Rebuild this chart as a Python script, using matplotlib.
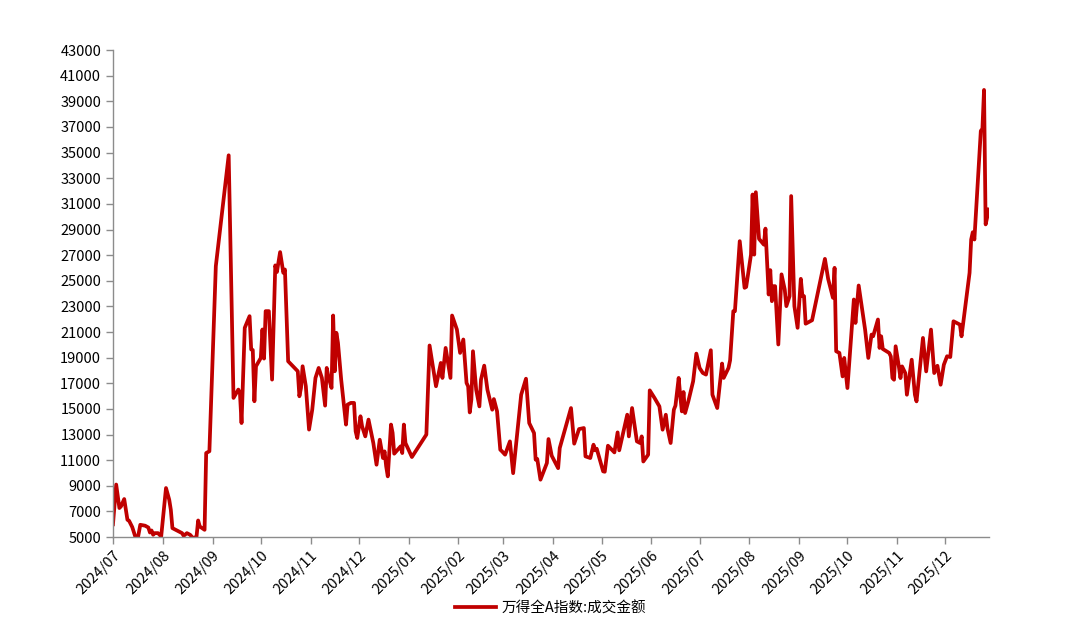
import matplotlib
matplotlib.use("Agg")
import matplotlib.pyplot as plt
import matplotlib.dates as mdates
import pandas as pd

plt.rcParams["font.family"] = ["Noto Sans CJK SC", "DejaVu Sans"]

# 万得全A指数 成交金额
dates = [
    "2024-07-01", "2024-07-03", "2024-07-05", "2024-07-06", "2024-07-08", "2024-07-10", "2024-07-11",
    "2024-07-13", "2024-07-16", "2024-07-18", "2024-07-21", "2024-07-23", "2024-07-24", "2024-07-25",
    "2024-07-26", "2024-07-27", "2024-07-29", "2024-07-31",
    "2024-08-03", "2024-08-05", "2024-08-06", "2024-08-07", "2024-08-09", "2024-08-11", "2024-08-13",
    "2024-08-14", "2024-08-16", "2024-08-18", "2024-08-20", "2024-08-22", "2024-08-23", "2024-08-24",
    "2024-08-27", "2024-08-28", "2024-08-30",
    "2024-09-03", "2024-09-11", "2024-09-14", "2024-09-17", "2024-09-18", "2024-09-19", "2024-09-21",
    "2024-09-24", "2024-09-25", "2024-09-26", "2024-09-27", "2024-09-28",
    "2024-10-01", "2024-10-02", "2024-10-03", "2024-10-04", "2024-10-06", "2024-10-08", "2024-10-10",
    "2024-10-11", "2024-10-13", "2024-10-15", "2024-10-16", "2024-10-18", "2024-10-21", "2024-10-24",
    "2024-10-25", "2024-10-26", "2024-10-27", "2024-10-29", "2024-10-31",
    "2024-11-02", "2024-11-04", "2024-11-06", "2024-11-08", "2024-11-10", "2024-11-11", "2024-11-12",
    "2024-11-14", "2024-11-15", "2024-11-16", "2024-11-17", "2024-11-18", "2024-11-20", "2024-11-23",
    "2024-11-24", "2024-11-26", "2024-11-28", "2024-11-29", "2024-11-30",
    "2024-12-02", "2024-12-03", "2024-12-05", "2024-12-07", "2024-12-10", "2024-12-12", "2024-12-14",
    "2024-12-16", "2024-12-17", "2024-12-18", "2024-12-19", "2024-12-21", "2024-12-22", "2024-12-23",
    "2024-12-27", "2024-12-28", "2024-12-29", "2024-12-30",
    "2025-01-03", "2025-01-12", "2025-01-14", "2025-01-18", "2025-01-21", "2025-01-22", "2025-01-24",
    "2025-01-27", "2025-01-28", "2025-01-31",
    "2025-02-02", "2025-02-04", "2025-02-06", "2025-02-07", "2025-02-08", "2025-02-09", "2025-02-10",
    "2025-02-12", "2025-02-14", "2025-02-15", "2025-02-17", "2025-02-19", "2025-02-22", "2025-02-23",
    "2025-02-25", "2025-02-27", "2025-02-28",
    "2025-03-02", "2025-03-05", "2025-03-07", "2025-03-12", "2025-03-15", "2025-03-17", "2025-03-20",
    "2025-03-21", "2025-03-22", "2025-03-24", "2025-03-28", "2025-03-29", "2025-03-31",
    "2025-04-04", "2025-04-05", "2025-04-12", "2025-04-14", "2025-04-17", "2025-04-20", "2025-04-21",
    "2025-04-24", "2025-04-26", "2025-04-27", "2025-04-28",
    "2025-05-02", "2025-05-03", "2025-05-05", "2025-05-09", "2025-05-11", "2025-05-12", "2025-05-17",
    "2025-05-18", "2025-05-20", "2025-05-23", "2025-05-25", "2025-05-26", "2025-05-27", "2025-05-30",
    "2025-05-31",
    "2025-06-03", "2025-06-06", "2025-06-08", "2025-06-10", "2025-06-11", "2025-06-13", "2025-06-15",
    "2025-06-16", "2025-06-18", "2025-06-19", "2025-06-20", "2025-06-21", "2025-06-22", "2025-06-24",
    "2025-06-27", "2025-06-29",
    "2025-07-01", "2025-07-03", "2025-07-05", "2025-07-08", "2025-07-09", "2025-07-12", "2025-07-15",
    "2025-07-16", "2025-07-19", "2025-07-20", "2025-07-22", "2025-07-23", "2025-07-26", "2025-07-29",
    "2025-07-30",
    "2025-08-02", "2025-08-03", "2025-08-04", "2025-08-05", "2025-08-07", "2025-08-10", "2025-08-11",
    "2025-08-13", "2025-08-14", "2025-08-15", "2025-08-16", "2025-08-17", "2025-08-19", "2025-08-21",
    "2025-08-23", "2025-08-24", "2025-08-26", "2025-08-27", "2025-08-29", "2025-08-31",
    "2025-09-02", "2025-09-03", "2025-09-04", "2025-09-05", "2025-09-09", "2025-09-17", "2025-09-19",
    "2025-09-22", "2025-09-23", "2025-09-24", "2025-09-26", "2025-09-28", "2025-09-29",
    "2025-10-01", "2025-10-05", "2025-10-06", "2025-10-08", "2025-10-12", "2025-10-14", "2025-10-16",
    "2025-10-17", "2025-10-20", "2025-10-21", "2025-10-22", "2025-10-23", "2025-10-27", "2025-10-28",
    "2025-10-29", "2025-10-30", "2025-10-31",
    "2025-11-02", "2025-11-03", "2025-11-04", "2025-11-06", "2025-11-07", "2025-11-10", "2025-11-12",
    "2025-11-13", "2025-11-15", "2025-11-17", "2025-11-19", "2025-11-22", "2025-11-24", "2025-11-26",
    "2025-11-28", "2025-11-30",
    "2025-12-02", "2025-12-04", "2025-12-06", "2025-12-10", "2025-12-11", "2025-12-16", "2025-12-17",
    "2025-12-18", "2025-12-19", "2025-12-23", "2025-12-24", "2025-12-25", "2025-12-26", "2025-12-28",
]

turnover = [
    6000, 9100, 7270, 7400, 7970, 6350, 6280,
    5780, 4600, 5960, 5890, 5750, 5360, 5520,
    5180, 5310, 5310, 5050,
    8830, 7920, 7130, 5700, 5570, 5440, 5310,
    5100, 5310, 5180, 4900, 5050, 6300, 5830,
    5570, 11560, 11700,
    26140, 34790, 15860, 16510, 16250, 13900, 21330,
    22240, 19640, 19600, 15600, 18330,
    18980, 21200, 18930, 22630, 22630, 17290, 26200,
    25680, 27240, 25620, 25880, 18720, 18330, 17940,
    15990, 16640, 18330, 16770, 13390,
    14950, 17420, 18200, 17420, 15260, 18200, 17550,
    16640, 22290, 17940, 20940, 20160, 17290, 13780,
    15340, 15470, 15470, 13250, 12730,
    14430, 13650, 12860, 14170, 12340, 10650, 12600,
    11170, 11690, 10520, 9740, 13780, 13130, 11510,
    12080, 11560, 13780, 12340,
    11250, 13000, 19950, 16770, 18590, 17420, 19760,
    17420, 22290, 21200,
    19370, 20420, 17030, 16760, 14730, 15720, 19500,
    16500, 15200, 17290, 18380, 16500, 14940, 15770,
    14810, 11820, 11700,
    11430, 12470, 9990, 16110, 17360, 13900, 13120,
    11040, 11100, 9480, 10780, 12650, 11350,
    10380, 11950, 15070, 12290, 13430, 13510, 11300,
    11170, 12210, 11770, 11900,
    10130, 10100, 12130, 11610, 13170, 11770, 14550,
    12860, 15070, 12470, 12340, 12860, 10900, 11430,
    16450,
    15850, 15200, 13380, 14550, 13510, 12340, 14940,
    15260, 17420, 15980, 14810, 16320, 14680, 15590,
    17160, 19320,
    18200, 17810, 17680, 19580, 16110, 15070, 18540,
    17420, 18200, 18800, 22630, 22630, 28090, 24450,
    24520,
    27040, 31730, 27040, 31910, 28270, 27820, 29070,
    23930, 25830, 23410, 24580, 24580, 20030, 25500,
    24320, 23020, 23800, 31610, 23020, 21330,
    25150, 23800, 23800, 21650, 21920, 26710, 25150,
    23670, 26010, 19500, 19370, 17540, 18980,
    16630, 23540, 21710, 24630, 21190, 18980, 20800,
    20670, 21980, 19760, 20670, 19680, 19370, 19100,
    17410, 17280, 19890,
    18320, 17410, 18320, 17800, 16110, 18840, 16110,
    15590, 18060, 20540, 17930, 21190, 17800, 18370,
    16890, 18450,
    19110, 19050, 21840, 21580, 20670, 25620, 28220,
    28790, 28220, 36690, 36870, 39890, 29400, 30560,
]

series_name = "万得全A指数:成交金额"
month_ticks = pd.date_range("2024-07-01", "2025-12-01", freq="MS")

x = pd.to_datetime(dates)

fig = plt.figure(figsize=(10.8, 6.26), dpi=100)
ax = fig.add_axes([0.1046, 0.142, 0.811, 0.778])

ax.plot(x, turnover, color="#C00000", linewidth=2.7, label=series_name, solid_joinstyle="round")

ax.set_ylim(5000, 43000)
ax.set_yticks(range(5000, 43001, 2000))
ax.set_xlim(pd.Timestamp("2024-07-01"), pd.Timestamp("2025-12-28"))
ax.set_xticks(month_ticks)
ax.xaxis.set_major_formatter(mdates.DateFormatter("%Y/%m"))

for lab in ax.get_xticklabels():
    lab.set_rotation(45)
    lab.set_ha("right")
    lab.set_rotation_mode("anchor")

for side in ["top", "right"]:
    ax.spines[side].set_visible(False)
for side in ["left", "bottom"]:
    ax.spines[side].set_color("#8c8c8c")
    ax.spines[side].set_linewidth(1.0)

ax.tick_params(axis="both", colors="#8c8c8c", labelcolor="black", labelsize=10.5,
               length=5, width=1, direction="out")
ax.tick_params(axis="x", pad=3)

ax.legend(loc="upper center", bbox_to_anchor=(0.5, -0.105), frameon=False, fontsize=10.5,
          handlelength=2.8, handletextpad=0.4)

fig.savefig("out.png", dpi=100)
